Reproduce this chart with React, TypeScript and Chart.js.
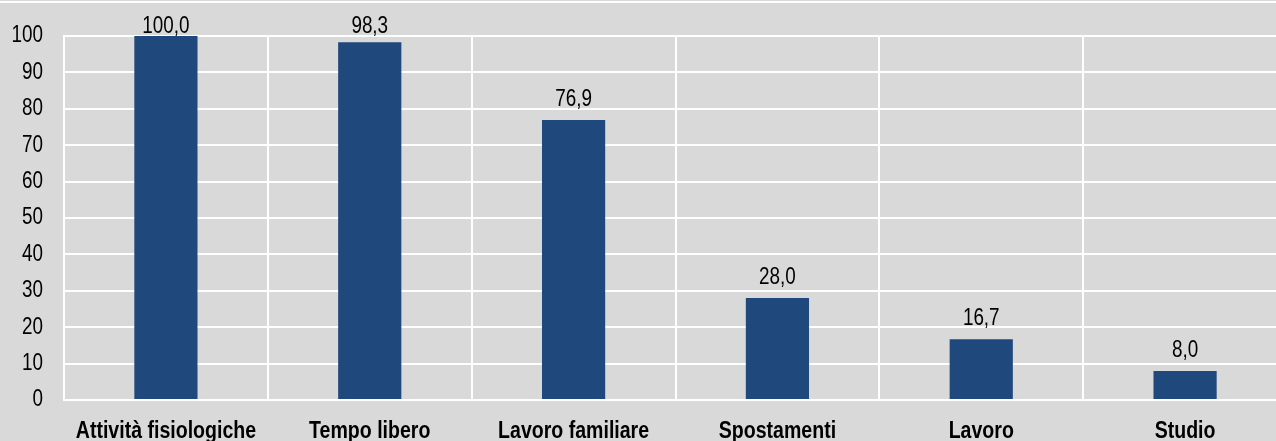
import React, { useEffect, useRef } from "react";
import { Chart, registerables } from "chart.js";

Chart.register(...registerables);

const categories = [
  "Attività fisiologiche",
  "Tempo libero",
  "Lavoro familiare",
  "Spostamenti",
  "Lavoro",
  "Studio",
];
const values = [100.0, 98.3, 76.9, 28.0, 16.7, 8.0];
const yTicks = [0, 10, 20, 30, 40, 50, 60, 70, 80, 90, 100];

const FONT = "'Liberation Sans', Arial, sans-serif";
const BG = "#d9d9d9";
const BAR = "#1f497d";
const NARROW = 0.82;

function drawNarrow(
  ctx: CanvasRenderingContext2D,
  text: string,
  x: number,
  y: number,
  align: CanvasTextAlign,
  baseline: CanvasTextBaseline,
  font: string,
  sx: number
) {
  ctx.save();
  ctx.font = font;
  ctx.fillStyle = "#000000";
  ctx.textAlign = align;
  ctx.textBaseline = baseline;
  ctx.translate(x, y);
  ctx.scale(sx, 1);
  ctx.fillText(text, 0, 0);
  ctx.restore();
}

const bgPlugin = {
  id: "bgPlugin",
  beforeDraw(chart: any) {
    const { ctx, width, height } = chart;
    ctx.save();
    ctx.fillStyle = BG;
    ctx.fillRect(0, 0, width, height);
    ctx.fillStyle = "#ffffff";
    ctx.fillRect(0, 1, width, 2);
    ctx.restore();
  },
};

const labelPlugin = {
  id: "labelPlugin",
  afterDraw(chart: any) {
    const { ctx } = chart;
    const yScale = chart.scales.y;
    const xScale = chart.scales.x;
    yTicks.forEach((v) => {
      drawNarrow(ctx, String(v), 43, yScale.getPixelForValue(v), "right", "middle", `23px ${FONT}`, NARROW);
    });
    categories.forEach((c, i) => {
      drawNarrow(ctx, c, xScale.getPixelForValue(i), 437.5, "center", "alphabetic", `bold 23px ${FONT}`, 0.85);
    });
    const meta = chart.getDatasetMeta(0);
    meta.data.forEach((el: any, i: number) => {
      const txt = values[i].toFixed(1).replace(".", ",");
      const y = Math.max(33, el.y - 14);
      drawNarrow(ctx, txt, el.x, y, "center", "alphabetic", `23px ${FONT}`, NARROW);
    });
  },
};

export default function App() {
  const ref = useRef<HTMLCanvasElement | null>(null);

  useEffect(() => {
    if (!ref.current) return;
    const chart = new Chart(ref.current, {
      type: "bar",
      data: {
        labels: categories,
        datasets: [
          {
            data: values,
            backgroundColor: BAR,
            borderWidth: 0,
            barPercentage: 0.31,
            categoryPercentage: 1,
          },
        ],
      },
      options: {
        responsive: false,
        animation: false,
        devicePixelRatio: 1,
        layout: { padding: { top: 36, right: 13, left: 0, bottom: 0 } },
        plugins: {
          legend: { display: false },
          tooltip: { enabled: false },
          title: { display: false },
        },
        scales: {
          x: {
            grid: {
              color: "#ffffff",
              lineWidth: 2,
              drawTicks: false,
              offset: true,
            },
            border: { color: "#ffffff", width: 2 },
            ticks: { display: false },
            afterFit(scale: any) {
              scale.height = 41;
            },
          },
          y: {
            min: 0,
            max: 100,
            afterBuildTicks(scale: any) {
              scale.ticks = yTicks.map((v) => ({ value: v }));
            },
            grid: {
              color: "#ffffff",
              lineWidth: 2,
              drawTicks: false,
            },
            border: { color: "#ffffff", width: 2 },
            ticks: { display: false },
            afterFit(scale: any) {
              scale.width = 64;
            },
          },
        },
      },
      plugins: [bgPlugin, labelPlugin],
    });
    return () => chart.destroy();
  }, []);

  return (
    <div
      style={{
        position: "fixed",
        left: 0,
        top: 0,
        width: 1276,
        height: 441,
        overflow: "hidden",
        background: BG,
      }}
    >
      <canvas ref={ref} width={1300} height={441} style={{ display: "block" }} />
    </div>
  );
}
